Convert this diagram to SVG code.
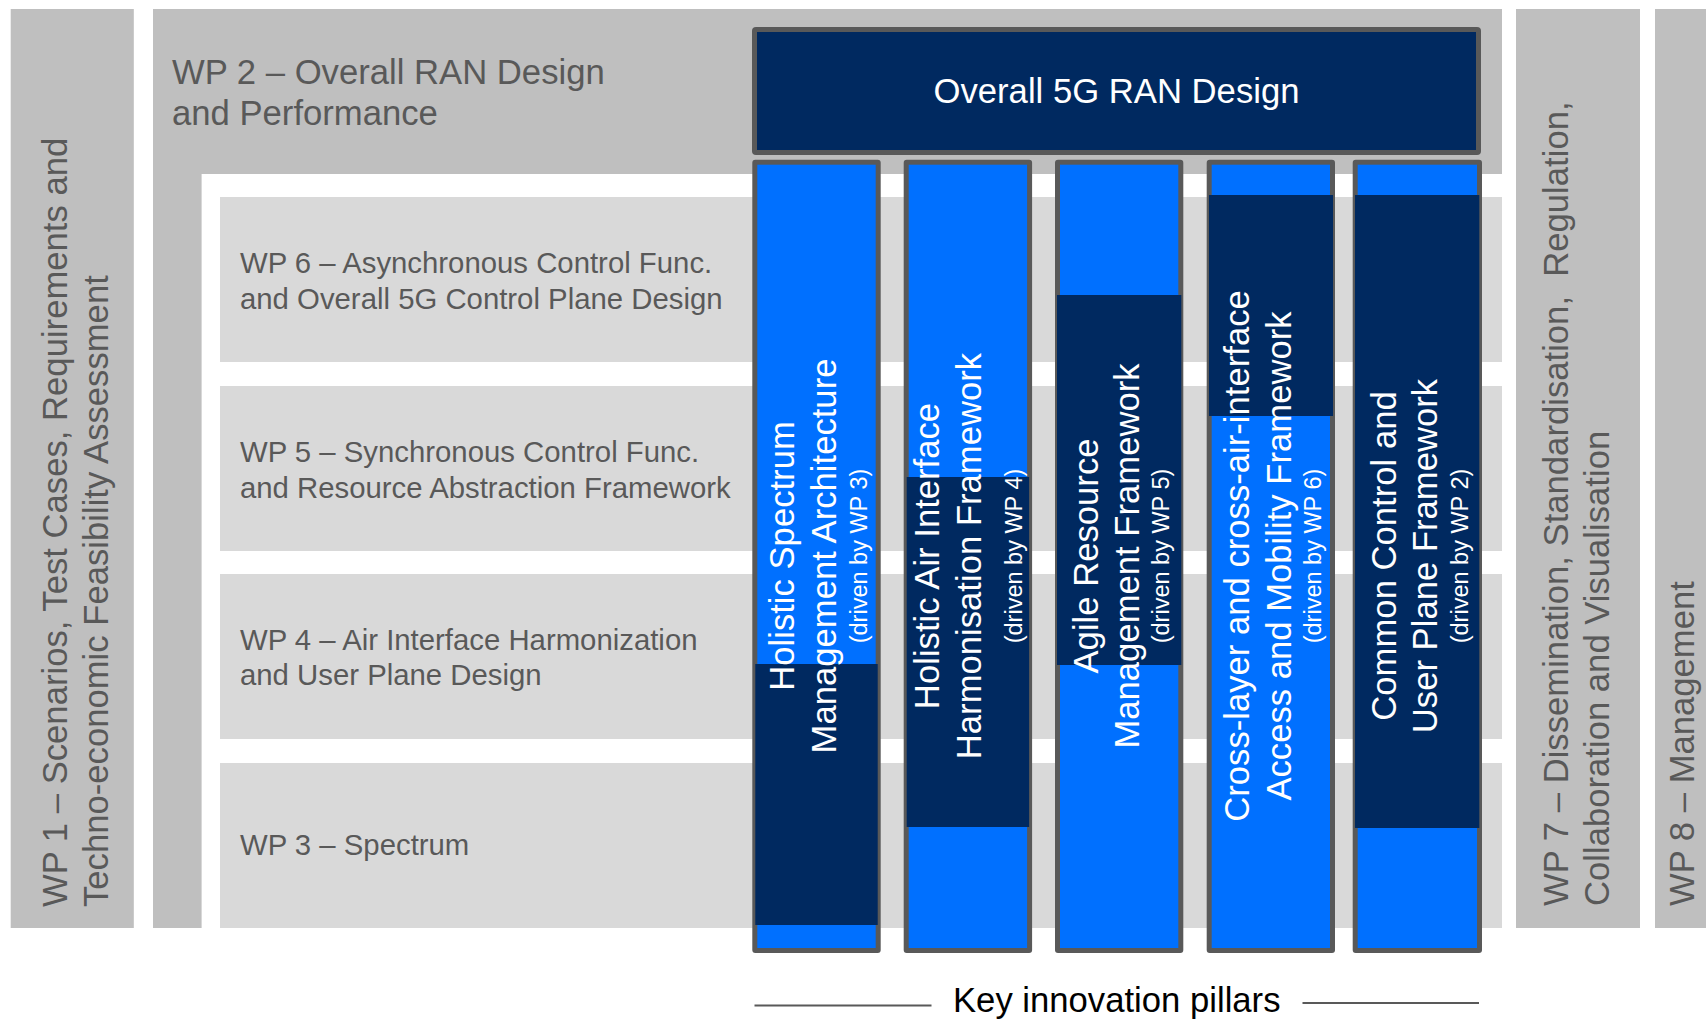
<svg xmlns="http://www.w3.org/2000/svg" width="1706" height="1020" viewBox="0 0 1706 1020">
<style>
  .wp{fill:#BFBFBF}
  .row{fill:#D9D9D9}
  .t{font-family:"Liberation Sans",Arial,Helvetica,sans-serif}
  .g{fill:#595959}
  .big{font-size:34.67px}
  .mid{font-size:29.33px}
  .sm{font-size:23.5px}
  .frame{fill:#595959}
  .blue{fill:#0070FF}
  .navy{fill:#002960}
  .w{fill:#FFFFFF;text-anchor:middle}
  .rule{stroke:#595959;stroke-width:2;fill:none}
</style>
<rect width="1706" height="1020" fill="#FFFFFF"/>

<g id="wp1">
  <rect class="wp" x="10.7" y="9" width="123.1" height="919"/>
  <g transform="rotate(-90)" class="t g big">
    <text x="-907" y="67">WP 1 – Scenarios, Test Cases, Requirements and</text>
    <text x="-907" y="108">Techno-economic Feasibility Assessment</text>
  </g>
</g>

<g id="wp2">
  <path class="wp" d="M153,9 H1502 V174 H201.6 V928 H153 Z"/>
  <text class="t g big" x="172" y="83.5">WP 2 – Overall RAN Design</text>
  <text class="t g big" x="172" y="124.5">and Performance</text>
</g>

<g id="wp6">
  <rect class="row" x="220" y="197" width="1282" height="165"/>
  <text class="t g mid" x="240" y="273">WP 6 – Asynchronous Control Func.</text>
  <text class="t g mid" x="240" y="309">and Overall 5G Control Plane Design</text>
</g>
<g id="wp5">
  <rect class="row" x="220" y="386" width="1282" height="165"/>
  <text class="t g mid" x="240" y="462">WP 5 – Synchronous Control Func.</text>
  <text class="t g mid" x="240" y="497.5">and Resource Abstraction Framework</text>
</g>
<g id="wp4">
  <rect class="row" x="220" y="574" width="1282" height="165"/>
  <text class="t g mid" x="240" y="649.5">WP 4 – Air Interface Harmonization</text>
  <text class="t g mid" x="240" y="684.5">and User Plane Design</text>
</g>
<g id="wp3">
  <rect class="row" x="220" y="763" width="1282" height="165"/>
  <text class="t g mid" x="240" y="855">WP 3 – Spectrum</text>
</g>

<g id="wp7">
  <rect class="wp" x="1516" y="9" width="124" height="919"/>
  <g transform="rotate(-90)" class="t g big">
    <text x="-906" y="1568" xml:space="preserve">WP 7 – Dissemination, Standardisation,  Regulation,</text>
    <text x="-906" y="1609">Collaboration and Visualisation</text>
  </g>
</g>

<g id="wp8">
  <rect class="wp" x="1655" y="9" width="51" height="919"/>
  <text class="t g big" transform="rotate(-90)" x="-906" y="1694">WP 8 – Management</text>
</g>

<g id="overall-5g-ran-design">
  <rect class="frame" x="752" y="27" width="729" height="128" rx="4"/>
  <rect class="navy" x="757" y="32" width="719" height="118"/>
  <text class="t w big" x="1116.5" y="103">Overall 5G RAN Design</text>
</g>

<g id="pillar-1">
  <rect class="frame" x="752.3" y="159.7" width="128.4" height="793.3" rx="3"/>
  <rect class="blue" x="757.3" y="164.7" width="118.4" height="783.3"/>
  <rect class="navy" x="755.3" y="664" width="122.4" height="261"/>
  <g transform="rotate(-90)" class="t w">
    <text class="big" x="-556" y="794.3">Holistic Spectrum</text>
    <text class="big" x="-556" y="835.7">Management Architecture</text>
    <text class="sm" x="-556" y="867">(driven by WP 3)</text>
  </g>
</g>

<g id="pillar-2">
  <rect class="frame" x="903.7" y="159.7" width="128.4" height="793.3" rx="3"/>
  <rect class="blue" x="908.7" y="164.7" width="118.4" height="783.3"/>
  <rect class="navy" x="906.7" y="477" width="122.4" height="350"/>
  <g transform="rotate(-90)" class="t w">
    <text class="big" x="-556" y="939">Holistic Air Interface</text>
    <text class="big" x="-556" y="981">Harmonisation Framework</text>
    <text class="sm" x="-556" y="1021.7">(driven by WP 4)</text>
  </g>
</g>

<g id="pillar-3">
  <rect class="frame" x="1055" y="159.7" width="128.3" height="793.3" rx="3"/>
  <rect class="blue" x="1060" y="164.7" width="118.3" height="783.3"/>
  <rect class="navy" x="1057" y="295" width="124.3" height="370"/>
  <g transform="rotate(-90)" class="t w">
    <text class="big" x="-556" y="1097.7">Agile Resource</text>
    <text class="big" x="-556" y="1139">Management Framework</text>
    <text class="sm" x="-556" y="1169">(driven by WP 5)</text>
  </g>
</g>

<g id="pillar-4">
  <rect class="frame" x="1206.7" y="159.7" width="128.3" height="793.3" rx="3"/>
  <rect class="blue" x="1211.7" y="164.7" width="118.3" height="783.3"/>
  <rect class="navy" x="1209" y="195" width="124" height="221"/>
  <g transform="rotate(-90)" class="t w">
    <text class="big" x="-556" y="1248.7">Cross-layer and cross-air-interface</text>
    <text class="big" x="-556" y="1291">Access and Mobility Framework</text>
    <text class="sm" x="-556" y="1320.7">(driven by WP 6)</text>
  </g>
</g>

<g id="pillar-5">
  <rect class="frame" x="1352.7" y="159.7" width="129.3" height="793.3" rx="3"/>
  <rect class="blue" x="1357.7" y="164.7" width="119.3" height="783.3"/>
  <rect class="navy" x="1355" y="195" width="124.3" height="633"/>
  <g transform="rotate(-90)" class="t w">
    <text class="big" x="-556" y="1395.7">Common Control and</text>
    <text class="big" x="-556" y="1437.3">User Plane Framework</text>
    <text class="sm" x="-556" y="1468">(driven by WP 2)</text>
  </g>
</g>

<g id="key-innovation-pillars">
  <line class="rule" x1="754.5" y1="1005.5" x2="931.5" y2="1005.5"/>
  <line class="rule" x1="1302.5" y1="1003" x2="1479" y2="1003"/>
  <text class="t big" x="953" y="1012" fill="#000000">Key innovation pillars</text>
</g>
</svg>
